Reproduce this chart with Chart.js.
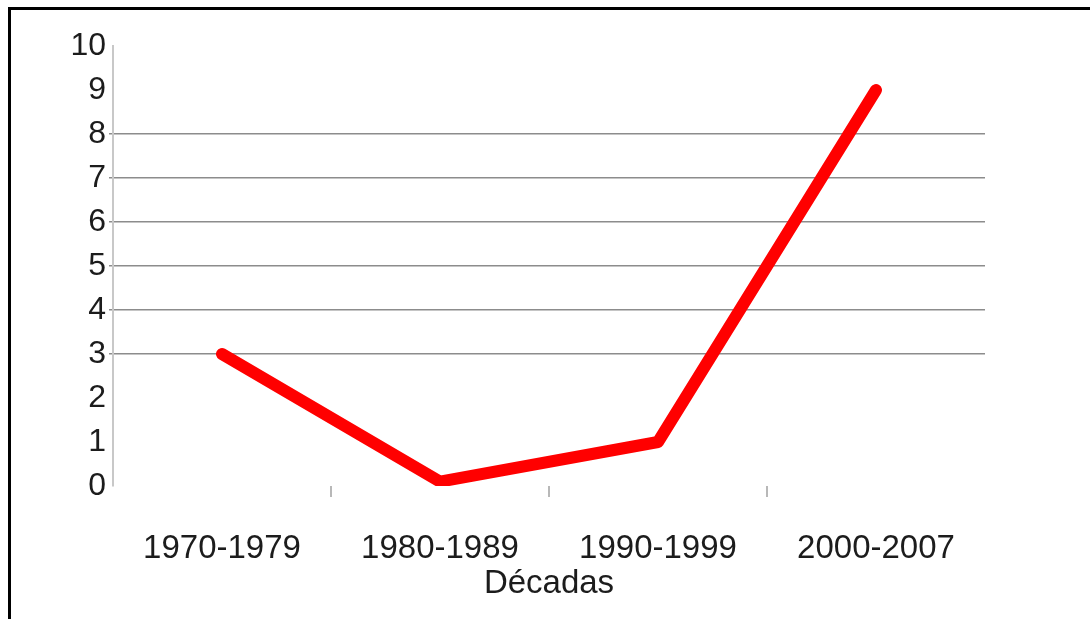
<!DOCTYPE html>
<html>
<head>
<meta charset="utf-8">
<title>Décadas</title>
<script src="https://cdn.jsdelivr.net/npm/chart.js@4.4.1/dist/chart.umd.min.js"></script>
<style>
    html, body { margin: 0; padding: 0; background: #fff; overflow: hidden; }
    #wrap { position: relative; width: 1090px; height: 619px; }
    #frame {
        position: absolute; left: 8px; top: 7px; right: -20px; bottom: -20px;
        border-left: 3px solid #000; border-top: 3px solid #000;
        pointer-events: none;
    }
    canvas { position: absolute; left: 0; top: 0; }
</style>
</head>
<body>
<div id="wrap">
    <canvas id="chart" width="1090" height="619"></canvas>
    <div id="frame"></div>
</div>
<script>
// Data
const decades = ['1970-1979', '1980-1989', '1990-1999', '2000-2007'];
const values = [3, 0.1, 1, 9];
const yMin = 0;
const yMax = 10;
// only these horizontal grid lines are drawn in the original
const gridValues = [3, 4, 5, 6, 7, 8];

const fontFamily = '"Liberation Sans", Arial, sans-serif';
const textColor = '#1c1c1c';

const ctx = document.getElementById('chart').getContext('2d');

new Chart(ctx, {
    type: 'line',
    data: {
        labels: decades,
        datasets: [{
            data: values,
            borderColor: '#ff0000',
            borderWidth: 12,
            borderCapStyle: 'round',
            borderJoinStyle: 'round',
            pointRadius: 0,
            tension: 0,
            fill: false
        }]
    },
    options: {
        responsive: false,
        devicePixelRatio: 1,
        animation: false,
        layout: {
            padding: { left: 0, right: 105, top: 46, bottom: 0 }
        },
        plugins: {
            legend: { display: false },
            tooltip: { enabled: false }
        },
        scales: {
            x: {
                offset: true,
                border: { display: false },
                grid: {
                    offset: true,
                    drawOnChartArea: false,
                    drawTicks: true,
                    tickLength: 11,
                    lineWidth: 2,
                    color: (c) => (c.index > 0 && c.index < decades.length) ? '#b8b8b8' : 'rgba(0,0,0,0)'
                },
                ticks: {
                    color: textColor,
                    padding: 32,
                    font: { family: fontFamily, size: 33 }
                },
                title: {
                    display: true,
                    text: 'Décadas',
                    color: textColor,
                    padding: { top: 0, bottom: 15 },
                    font: { family: fontFamily, size: 33 }
                },
                afterFit: (scale) => { scale.height = 133; }
            },
            y: {
                min: yMin,
                max: yMax,
                border: { display: true, color: '#c8c8c8', width: 2 },
                grid: {
                    drawTicks: true,
                    tickLength: 4,
                    lineWidth: 1.5,
                    color: (c) => gridValues.includes(c.tick.value) ? '#8c8c8c' : 'rgba(0,0,0,0)'
                },
                ticks: {
                    stepSize: 1,
                    color: textColor,
                    padding: 3,
                    font: { family: fontFamily, size: 32 }
                },
                afterFit: (scale) => { scale.width = 113; }
            }
        }
    }
});
</script>
</body>
</html>
